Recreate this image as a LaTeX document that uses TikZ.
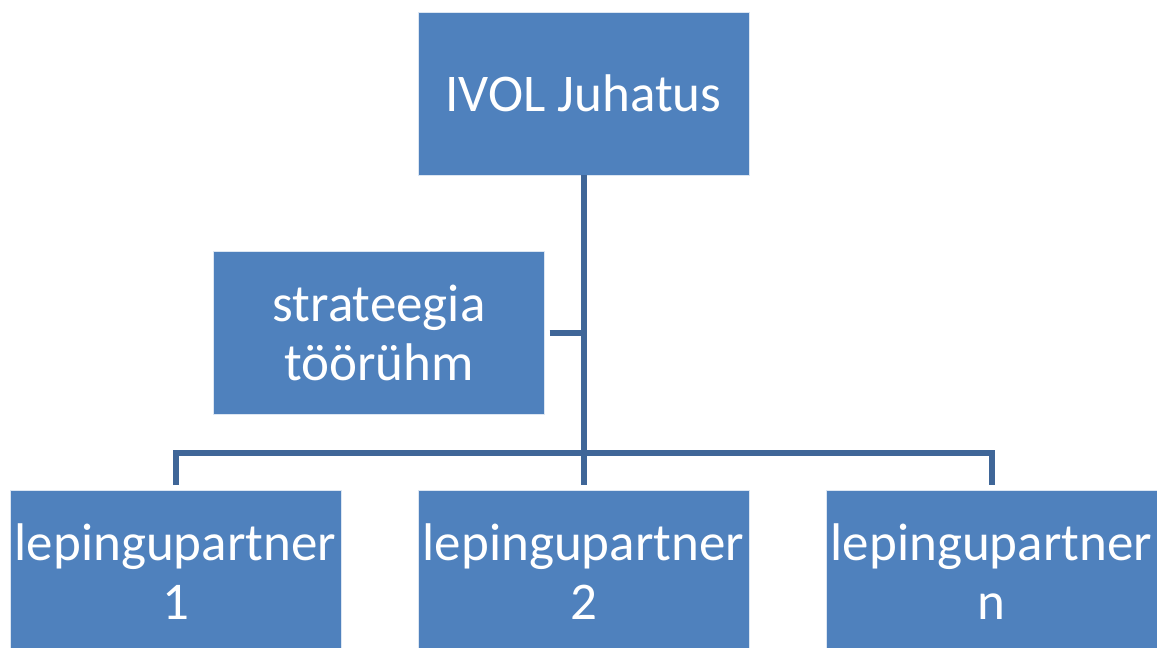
\documentclass[tikz,border=0pt]{standalone}
\usepackage{fontspec}
\setmainfont{Carlito}
\definecolor{boxblue}{HTML}{4F81BD}
\definecolor{lineblue}{HTML}{3F6698}
\begin{document}
\begin{tikzpicture}[x=1pt,y=-1pt,
  orgbox/.style={rectangle, fill=boxblue, draw=white!80!boxblue, line width=1pt,
    minimum width=331pt, minimum height=163pt, inner sep=0pt, outer sep=0pt,
    text=white, align=center, font=\fontsize{53}{59}\selectfont},
  conn/.style={draw=lineblue, line width=6pt}]
\useasboundingbox (0,0) rectangle (1157,648);
\node[orgbox] (top) at (583.5,93.5) {IVOL Juhatus};
\node[orgbox] (strat) at (379,332.5) {strateegia\\töörühm};
\node[orgbox] (bot1) at (175.5,571.5) {lepingupartner\\1};
\node[orgbox] (bot2) at (583.5,571.5) {lepingupartner\\2};
\node[orgbox] (bot3) at (991.5,571.5) {lepingupartner\\n};
\coordinate (bus) at (583.5,453);
\draw[conn] (top.south) -- ([yshift=5pt]bot2.north);
\draw[conn] ([yshift=5pt]bot1.north) |- (bus) -| ([yshift=5pt]bot3.north);
\draw[conn] ([xshift=5pt]strat.east) -- (strat.east -| top.south);
\end{tikzpicture}
\end{document}
